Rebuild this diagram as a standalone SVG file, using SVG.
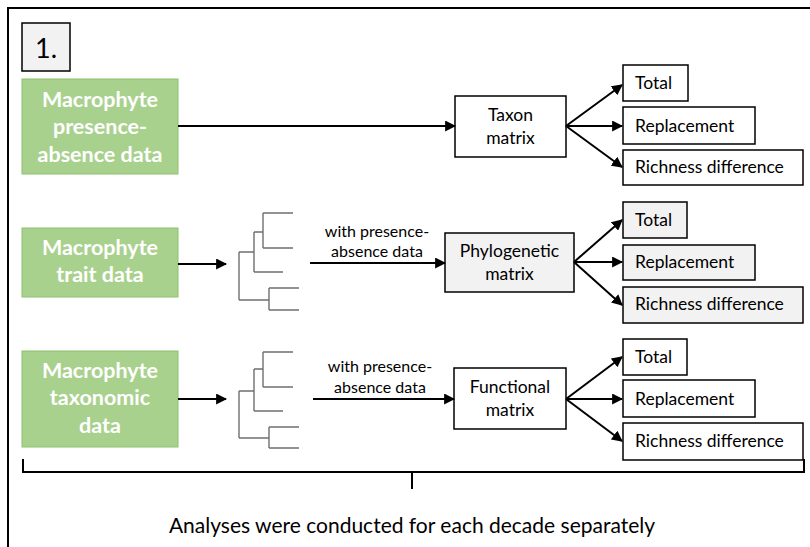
<svg xmlns="http://www.w3.org/2000/svg" width="810" height="547" viewBox="0 0 810 547">
  <defs>
    <marker id="arrow" viewBox="0 0 10 10" refX="9" refY="5" markerWidth="5.5" markerHeight="5.5" orient="auto" markerUnits="strokeWidth">
      <path d="M0,0 L10,5 L0,10 Z" fill="#000"/>
    </marker>
    <style>
      .frame { fill: none; stroke: #000; stroke-width: 2; }
      .src rect { fill: #a9d18e; stroke: #8cc16c; stroke-width: 1; }
      .src text { font-family: Lato, "Open Sans", sans-serif; font-weight: bold; font-size: 21.5px; fill: #fff; text-anchor: middle; }
      .box rect { fill: #fff; stroke: #000; stroke-width: 1.5; }
      .box.grey rect { fill: #f2f2f2; }
      .box text { font-family: Lato, "Open Sans", sans-serif; font-size: 17.5px; fill: #000; }
      .mid text { text-anchor: middle; }
      .conn line { stroke: #000; stroke-width: 2; marker-end: url(#arrow); }
      .tree path { fill: none; stroke: #6f6f6f; stroke-width: 1.4; }
      .lbl { font-family: Lato, "Open Sans", sans-serif; font-size: 16px; fill: #000; text-anchor: middle; }
      .brace { fill: none; stroke: #000; stroke-width: 2; }
      .note { font-family: Lato, "Open Sans", sans-serif; font-size: 21px; fill: #000; text-anchor: middle; }
    </style>
  </defs>

  <rect width="810" height="547" fill="#fff"/>
  <!-- outer panel border -->
  <path class="frame" d="M8,547 V8 H812"/>

  <!-- panel number -->
  <g id="panel-label" class="box grey mid">
    <rect x="22" y="23" width="48" height="48"/>
    <text x="46" y="58" style="font-size:27px">1.</text>
  </g>

  <!-- source data -->
  <g id="src-presence" class="src">
    <rect x="22" y="79" width="156" height="95"/>
    <text x="100" y="107">Macrophyte</text>
    <text x="100" y="134">presence-</text>
    <text x="100" y="162">absence data</text>
  </g>
  <g id="src-trait" class="src">
    <rect x="22" y="228" width="156" height="69"/>
    <text x="100" y="255">Macrophyte</text>
    <text x="100" y="282">trait data</text>
  </g>
  <g id="src-taxonomic" class="src">
    <rect x="22" y="351" width="156" height="96"/>
    <text x="100" y="378">Macrophyte</text>
    <text x="100" y="405">taxonomic</text>
    <text x="100" y="433">data</text>
  </g>

  <!-- dendrograms -->
  <g id="tree-trait" class="tree">
    <path d="M239,252 V300 M239,252 H254 M254,232 V272 M254,272 H283 M254,232 H263 M263,213 V248 M263,213 H293 M263,248 H293 M239,300 H269 M269,288 V310 M269,288 H299 M269,310 H299"/>
  </g>
  <g id="tree-taxonomic" class="tree">
    <path d="M239,391 V438 M239,391 H254 M254,369 V411 M254,411 H283 M254,369 H263 M263,352 V387 M263,352 H293 M263,387 H293 M239,438 H269 M269,427 V448 M269,427 H299 M269,448 H299"/>
  </g>

  <!-- matrices -->
  <g id="taxon-matrix" class="box mid">
    <rect x="455" y="96" width="111" height="61"/>
    <text x="510.5" y="121">Taxon</text>
    <text x="510.5" y="144">matrix</text>
  </g>
  <g id="phylo-matrix" class="box grey mid">
    <rect x="445" y="233" width="129" height="59"/>
    <text x="509.5" y="257">Phylogenetic</text>
    <text x="509.5" y="280">matrix</text>
  </g>
  <g id="func-matrix" class="box mid">
    <rect x="454" y="368" width="112" height="61"/>
    <text x="510" y="393">Functional</text>
    <text x="510" y="416">matrix</text>
  </g>

  <!-- outputs, taxon -->
  <g id="taxon-total" class="box">
    <rect x="623" y="65" width="65" height="36"/>
    <text x="635" y="89">Total</text>
  </g>
  <g id="taxon-repl" class="box">
    <rect x="623" y="107" width="132" height="37"/>
    <text x="635" y="132">Replacement</text>
  </g>
  <g id="taxon-rich" class="box">
    <rect x="623" y="150" width="180" height="35"/>
    <text x="635" y="173">Richness difference</text>
  </g>

  <!-- outputs, phylogenetic -->
  <g id="phylo-total" class="box grey">
    <rect x="623" y="202" width="64" height="36"/>
    <text x="635" y="226">Total</text>
  </g>
  <g id="phylo-repl" class="box grey">
    <rect x="623" y="245" width="132" height="35"/>
    <text x="635" y="268">Replacement</text>
  </g>
  <g id="phylo-rich" class="box grey">
    <rect x="623" y="287" width="180" height="36"/>
    <text x="635" y="310">Richness difference</text>
  </g>

  <!-- outputs, functional -->
  <g id="func-total" class="box">
    <rect x="623" y="339" width="64" height="36"/>
    <text x="635" y="363">Total</text>
  </g>
  <g id="func-repl" class="box">
    <rect x="623" y="380" width="132" height="37"/>
    <text x="635" y="405">Replacement</text>
  </g>
  <g id="func-rich" class="box">
    <rect x="623" y="423" width="180" height="37"/>
    <text x="635" y="447">Richness difference</text>
  </g>

  <!-- connectors -->
  <g id="connectors" class="conn">
    <line x1="178" y1="126" x2="455" y2="126"/>
    <line x1="566" y1="126" x2="622" y2="85"/>
    <line x1="566" y1="126" x2="622" y2="126"/>
    <line x1="566" y1="126" x2="622" y2="167"/>

    <line x1="178" y1="264" x2="226" y2="264"/>
    <line x1="310" y1="263" x2="445" y2="263"/>
    <line x1="574" y1="262" x2="622" y2="220"/>
    <line x1="574" y1="262" x2="622" y2="262"/>
    <line x1="574" y1="262" x2="622" y2="305"/>

    <line x1="178" y1="399" x2="226" y2="399"/>
    <line x1="313" y1="399" x2="454" y2="399"/>
    <line x1="566" y1="399" x2="622" y2="357"/>
    <line x1="566" y1="399" x2="622" y2="399"/>
    <line x1="566" y1="399" x2="622" y2="441"/>
  </g>

  <!-- connector labels -->
  <text class="lbl" x="377" y="237">with presence-</text>
  <text class="lbl" x="377" y="257">absence data</text>
  <text class="lbl" x="380" y="372">with presence-</text>
  <text class="lbl" x="380" y="393">absence data</text>

  <!-- bracket spanning the three workflows -->
  <path class="brace" d="M23,459 V472 H804 V459 M412,472 V489"/>
  <text class="note" x="412" y="533">Analyses were conducted for each decade separately</text>
</svg>
